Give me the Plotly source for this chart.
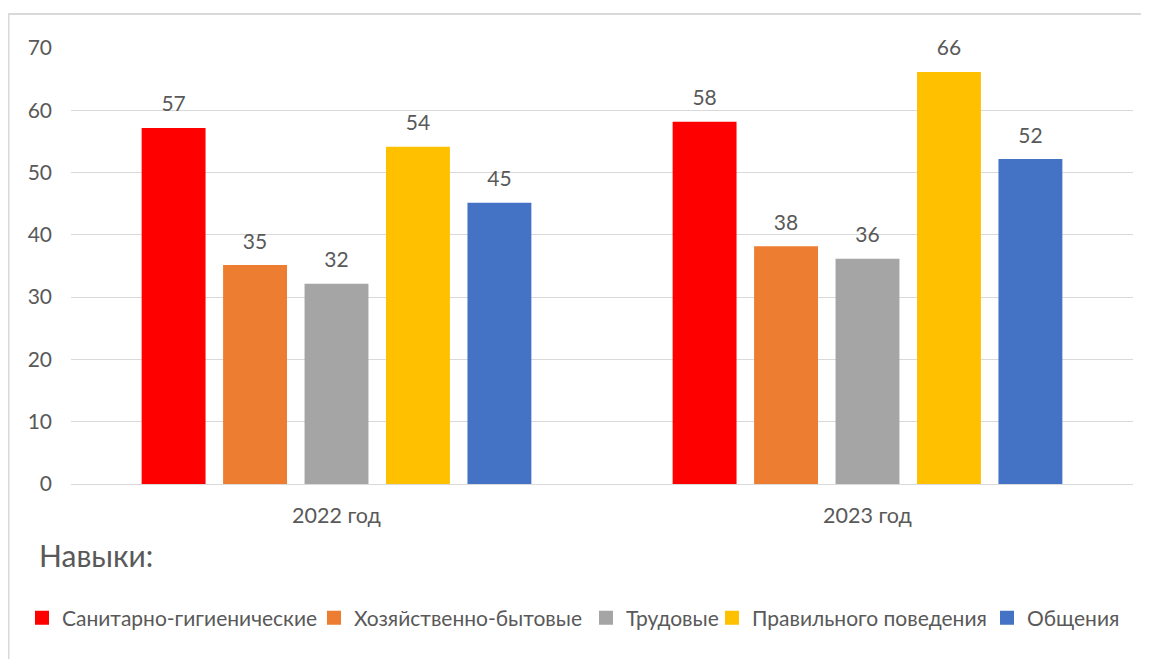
import plotly.graph_objects as go

years = ["2022 год", "2023 год"]
skills = ["Санитарно-гигиенические", "Хозяйственно-бытовые", "Трудовые",
          "Правильного поведения", "Общения"]
values = {
    "Санитарно-гигиенические": [57, 58],
    "Хозяйственно-бытовые": [35, 38],
    "Трудовые": [32, 36],
    "Правильного поведения": [54, 66],
    "Общения": [45, 52],
}
colors = ["#FF0000", "#ED7D31", "#A5A5A5", "#FFC000", "#4472C4"]
y_ticks = [0, 10, 20, 30, 40, 50, 60, 70]

FONT = "Lato"
GREY = "#595959"

# page body has an 8px margin, so the figure is 8px smaller than the window
W, H = 1141, 651
L, R, T, B = 63, 16, 40, 175
pw, ph = W - L - R, H - T - B
OFF = 8

# left edges (window px) of the legend swatches
legend_x = [35, 327, 599, 725, 1000]
legend_names = ["legend", "legend2", "legend3", "legend4", "legend5"]

fig = go.Figure()
for i, s in enumerate(skills):
    fig.add_trace(go.Bar(
        x=years, y=values[s], name=s, marker_color=colors[i],
        offsetgroup=str(i), marker_line=dict(color=colors[i], width=2),
        legend=legend_names[i],
    ))
for i, s in enumerate(skills):
    fig.add_trace(go.Scatter(
        x=years, y=values[s], mode="markers+text", text=[str(v) for v in values[s]],
        textposition="top center", offsetgroup=str(i), showlegend=False,
        marker=dict(size=18, opacity=0), hoverinfo="skip",
        textfont=dict(family=FONT, size=21, color=GREY), cliponaxis=False,
    ))

def px(x):
    return (x - L) / pw

def py(y):
    return (H - B - y) / ph

legends = {}
for i, name in enumerate(legend_names):
    legends[name] = dict(
        orientation="h", x=(legend_x[i] - OFF - 13) / W, xanchor="left", xref="container",
        y=1 - (618 - OFF) / H, yanchor="middle", yref="container",
        font=dict(family=FONT, size=21, color=GREY), bgcolor="rgba(0,0,0,0)",
        itemwidth=30,
    )

fig.update_layout(
    width=W, height=H,
    margin=dict(l=L, r=R, t=T, b=B, autoexpand=False),
    paper_bgcolor="white", plot_bgcolor="white",
    barmode="group", scattermode="group",
    bargap=0.233, bargroupgap=0.24, scattergap=0.233,
    font=dict(family=FONT, color=GREY, size=21),
    title=dict(text="Навыки:", x=(39 - OFF) / W, xanchor="left", xref="container",
               y=1 - (556 - OFF) / H, yanchor="middle", yref="container",
               font=dict(family=FONT, size=30, color=GREY)),
    showlegend=True,
    shapes=[dict(type="rect", xref="paper", yref="paper",
                 x0=px(0.5), x1=px(1170), y0=py(6), y1=py(700),
                 line=dict(color="#D9D9D9", width=2), layer="below")],
    **legends,
)
fig.update_xaxes(showgrid=False, showline=False, zeroline=False,
                 tickfont=dict(family=FONT, size=21.5, color=GREY),
                 ticks="", ticklabelstandoff=16)
fig.update_yaxes(range=[0, 70], tickvals=y_ticks, showgrid=True,
                 gridcolor="#D9D9D9", gridwidth=1, zeroline=True,
                 zerolinecolor="#D9D9D9", zerolinewidth=1, showline=False,
                 tickfont=dict(family=FONT, size=21, color=GREY),
                 ticks="", ticklabelstandoff=18)

fig.write_html("out.html")
